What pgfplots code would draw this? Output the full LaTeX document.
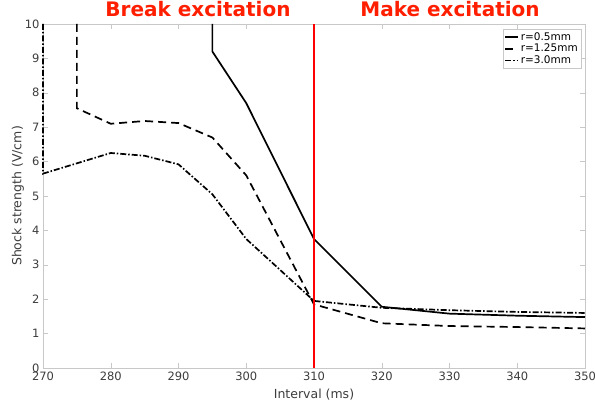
\documentclass[border=0pt]{standalone}
\usepackage{pgfplots}
\pgfplotsset{compat=1.18}
\usepackage{fontspec}
\setmainfont{DejaVu Sans}
\usetikzlibrary{calc}
\definecolor{axgray}{RGB}{200,200,200}
\definecolor{txtgray}{RGB}{60,60,60}
\definecolor{titlered}{RGB}{255,30,0}
\begin{document}
\begin{tikzpicture}
\begin{axis}[
  scale only axis,
  width=542pt, height=344pt,
  xmin=270, xmax=350, ymin=0, ymax=10,
  xtick={270,280,...,350}, ytick={0,1,...,10},
  tick align=inside,
  major tick length=5pt,
  axis line style={axgray},
  tick style={axgray},
  ticklabel style={font=\fontsize{11.5}{12}\selectfont, text=txtgray},
  /pgf/number format/assume math mode=true,
  xlabel={Interval (ms)}, ylabel={Shock strength (V/cm)},
  label style={font=\fontsize{12.5}{13}\selectfont, text=txtgray},
  xlabel style={yshift=-2pt},
  ylabel style={yshift=-6pt},
  clip=false,
  legend cell align=left,
  legend style={at={(rel axis cs:0.9926,0.985)}, anchor=north east,
    draw=axgray, font=\fontsize{10.5}{11}\selectfont, inner sep=1pt,
    row sep=-1.5pt},
  legend image code/.code={\draw[#1] (0cm,0cm) -- (0.45cm,0cm);},
]
\coordinate (ll) at (rel axis cs:0,0);
\addplot[black, line width=1.7pt] coordinates {
(295,10) (295,9.2) (300,7.7) (310,3.75) (320,1.78) (330,1.58) (340,1.52) (350,1.48)
};
\addlegendentry{r=0.5mm}
\addplot[black, line width=1.7pt, dash pattern=on 8pt off 5pt] coordinates {
(275,10) (275,7.55) (280,7.1) (285,7.18) (290,7.12) (295,6.7) (300,5.6) (310,1.85) (320,1.3) (330,1.22) (340,1.19) (350,1.15)
};
\addlegendentry{r=1.25mm}
\addplot[black, line width=1.7pt, dash pattern=on 6pt off 2pt on 1.5pt off 2pt] coordinates {
(270,10) (270,5.65) (280,6.25) (285,6.17) (290,5.92) (295,5.05) (300,3.75) (310,1.95) (320,1.75) (330,1.68) (340,1.63) (350,1.6)
};
\addlegendentry{r=3.0mm}
\addplot[red, line width=2.2pt, forget plot] coordinates {(310,0) (310,10)};
\node[text=titlered, font=\fontsize{20}{22}\selectfont\bfseries] at (axis description cs:0.286,1.042) {Break excitation};
\node[text=titlered, font=\fontsize{20}{22}\selectfont\bfseries] at (axis description cs:0.751,1.042) {Make excitation};
\end{axis}
\pgfresetboundingbox
\path[use as bounding box] ($(ll)+(-43pt,-38pt)$) rectangle ($(ll)+(552pt,368pt)$);
\end{tikzpicture}
\end{document}
